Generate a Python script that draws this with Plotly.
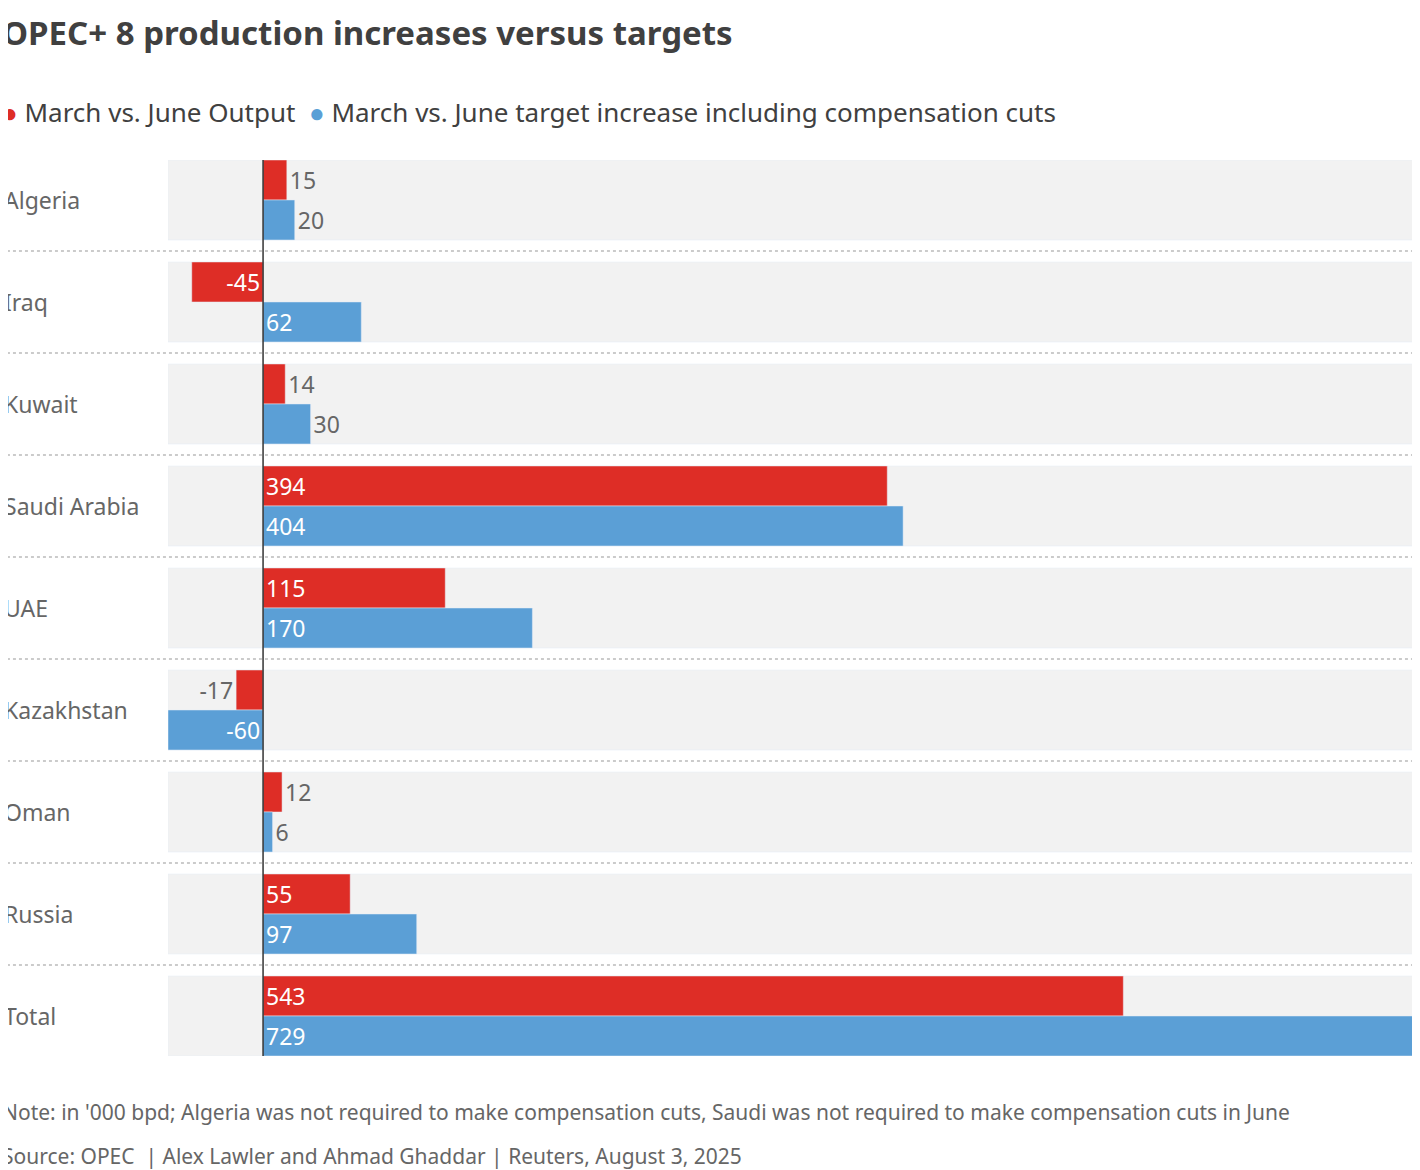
import plotly.graph_objects as go

countries = ["Algeria", "Iraq", "Kuwait", "Saudi Arabia", "UAE", "Kazakhstan", "Oman", "Russia", "Total"]
output = [15, -45, 14, 394, 115, -17, 12, 55, 543]
target = [20, 62, 30, 404, 170, -60, 6, 97, 729]

RED = "#de2d26"
BLUE = "#5b9fd6"
GREY_TXT = "#666666"
XMIN, XMAX = -60, 729
FONT = "Noto Sans"

idx = list(range(len(countries)))


def pos(vals):
    return ["inside" if abs(v) >= 40 else "outside" for v in vals]


def tcolor(vals):
    return ["white" if abs(v) >= 40 else GREY_TXT for v in vals]


fig = go.Figure()
# grey background bands
fig.add_trace(go.Bar(y=idx, x=[XMAX - XMIN] * len(idx), base=XMIN, orientation="h",
                     width=0.784, marker_color="#f2f2f2", hoverinfo="skip", showlegend=False))
fig.add_trace(go.Bar(y=[i - 0.196 for i in idx], x=output, orientation="h", width=0.392,
                     marker_color=RED, text=[str(v) for v in output], textposition=pos(output),
                     insidetextanchor="start", textfont=dict(size=23, color=tcolor(output)),
                     cliponaxis=False, showlegend=False))
fig.add_trace(go.Bar(y=[i + 0.196 for i in idx], x=target, orientation="h", width=0.392,
                     marker_color=BLUE, text=[str(v) for v in target], textposition=pos(target),
                     insidetextanchor="start", textfont=dict(size=23, color=tcolor(target)),
                     cliponaxis=False, showlegend=False))

shapes = [dict(type="line", xref="x", yref="y", x0=0, x1=0, y0=-0.392, y1=8.392,
               line=dict(color="#333333", width=1.5))]
for i in idx[:-1]:
    shapes.append(dict(type="line", xref="paper", yref="y", x0=-0.005, x1=1, y0=i + 0.5, y1=i + 0.5,
                       line=dict(color="#bbbbbb", width=1.5, dash="dot")))

ann = []
for i, c in zip(idx, countries):
    ann.append(dict(text=c, xref="paper", yref="y", x=-0.004, y=i, xanchor="left", showarrow=False,
                    font=dict(size=23, color=GREY_TXT)))
ann += [
    dict(text="<b>OPEC+ 8 production increases versus targets</b>", xref="paper", yref="paper",
         x=-0.006, y=1 + 128 / 896, xanchor="left", yanchor="middle", showarrow=False,
         font=dict(size=33, color="#404040")),
    dict(text=f"<span style='color:{RED}'>●</span> March vs. June Output  "
              f"<span style='color:{BLUE}'>●</span> March vs. June target increase including compensation cuts",
         xref="paper", yref="paper", x=-0.006, y=1 + 48 / 896, xanchor="left", yanchor="middle",
         showarrow=False, font=dict(size=26, color="#404040")),
    dict(text="Note: in '000 bpd; Algeria was not required to make compensation cuts, Saudi was not required to make compensation cuts in June",
         xref="paper", yref="paper", x=-0.006, y=-56 / 896, xanchor="left", yanchor="middle",
         showarrow=False, font=dict(size=21, color=GREY_TXT)),
    dict(text="Source: OPEC  | Alex Lawler and Ahmad Ghaddar | Reuters, August 3, 2025",
         xref="paper", yref="paper", x=-0.006, y=-100 / 896, xanchor="left", yanchor="middle",
         showarrow=False, font=dict(size=21, color=GREY_TXT)),
]

fig.update_layout(
    width=1412, height=1162, margin=dict(l=0, r=2, t=152, b=114),
    paper_bgcolor="white", plot_bgcolor="white", barmode="overlay",
    font=dict(family=FONT), shapes=shapes, annotations=ann,
    xaxis=dict(range=[XMIN, XMAX], domain=[160 / 1410, 1], visible=False),
    yaxis=dict(range=[8.392, -0.392], visible=False),
)
fig.write_html("out.html")
